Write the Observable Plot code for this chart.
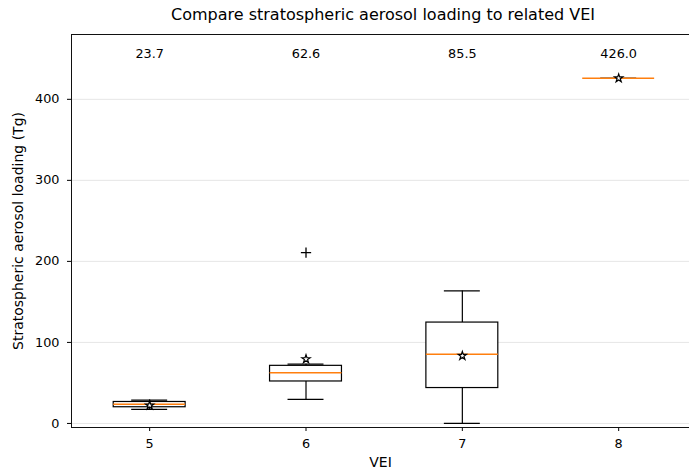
<!DOCTYPE html>
<html>
<head>
<meta charset="utf-8">
<script src="https://cdn.jsdelivr.net/npm/d3@7"></script>
<script src="https://cdn.jsdelivr.net/npm/@observablehq/plot@0.6"></script>
<style>
  html, body { margin: 0; padding: 0; background: #fff; }
  #wrap { width: 689px; height: 468px; overflow: hidden; font-family: "DejaVu Sans", sans-serif; }
  #title { width: 689px; height: 28px; box-sizing: border-box; padding-left: 77px; text-align: center;
           font-size: 16px; line-height: 30px; color: #000; white-space: nowrap; }
  svg { display: block; }
</style>
</head>
<body>
<div id="wrap">
  <div id="title">Compare stratospheric aerosol loading to related VEI</div>
  <div id="chart"></div>
</div>
<script>
// ---- data ----
const vei = ["5", "6", "7", "8"];
const whiskerLow  = [17.3, 29.6, 0.0, 426.0];
const quartile1   = [20.0, 51.8, 43.7, 426.0];
const medians     = [23.7, 62.6, 85.5, 426.0];
const quartile3   = [26.5, 71.1, 124.5, 426.0];
const whiskerHigh = [28.9, 73.2, 163.6, 426.0];
const means       = [22.3, 79.4, 83.5, 426.0];
const outlierVei   = ["6"];
const outlierValue = [210.8];
const yTicks = [0, 100, 200, 300, 400];

// ---- table built from arrays ----
const rows = vei.map((v, i) => ({
  pos: i + 1, vei: v,
  lo: whiskerLow[i], q1: quartile1[i], med: medians[i],
  q3: quartile3[i], hi: whiskerHigh[i], mean: means[i]
}));
const outliers = outlierVei.map((v, i) => ({ pos: vei.indexOf(v) + 1, value: outlierValue[i] }));

const halfBox = 0.23, halfCap = 0.115;
const fs = 12.8, lfs = 14;

const chart = Plot.plot({
  width: 689,
  height: 440,
  marginTop: 6,
  marginBottom: 41,
  marginLeft: 71,
  marginRight: 0,
  style: { fontFamily: "DejaVu Sans, sans-serif", fontSize: fs + "px", color: "#000", background: "#fff" },
  x: { type: "linear", domain: [0.5, 4.453] },
  y: { domain: [-5, 480] },
  marks: [
    Plot.ruleY(yTicks, { stroke: "#e6e6e6", strokeWidth: 1 }),
    // whiskers
    Plot.ruleX(rows, { x: "pos", y1: "lo", y2: "q1", stroke: "black", strokeWidth: 1.2 }),
    Plot.ruleX(rows, { x: "pos", y1: "q3", y2: "hi", stroke: "black", strokeWidth: 1.2 }),
    Plot.ruleY(rows, { y: "lo", x1: d => d.pos - halfCap, x2: d => d.pos + halfCap, stroke: "black", strokeWidth: 1.2 }),
    Plot.ruleY(rows, { y: "hi", x1: d => d.pos - halfCap, x2: d => d.pos + halfCap, stroke: "black", strokeWidth: 1.2 }),
    // boxes
    Plot.rect(rows, { x1: d => d.pos - halfBox, x2: d => d.pos + halfBox, y1: "q1", y2: "q3",
                      fill: "white", stroke: "black", strokeWidth: 1.2 }),
    // medians
    Plot.ruleY(rows, { y: "med", x1: d => d.pos - halfBox, x2: d => d.pos + halfBox, stroke: "#ff7f0e", strokeWidth: 1.5 }),
    // means
    Plot.dot(rows, { x: "pos", y: "mean", symbol: "star", r: 2.6, fill: "white", stroke: "black", strokeWidth: 1.2 }),
    // outliers
    Plot.dot(outliers, { x: "pos", y: "value", symbol: "plus", r: 3.4, stroke: "black", strokeWidth: 1.3 }),
    // median labels
    Plot.text(rows, { x: "pos", text: d => d.med.toFixed(1), frameAnchor: "top", dy: 14, fontSize: fs, fill: "#000" }),
    // axes (ticks)
    Plot.axisY({ ticks: yTicks, tickSize: 4, tickPadding: 8, fontSize: fs, label: null }),
    Plot.axisX({ ticks: rows.map(d => d.pos), tickFormat: d => vei[d - 1], tickSize: 4, tickPadding: 7, fontSize: fs, label: null }),
    // axis labels
    Plot.axisY({ ticks: [], tickSize: 0, fontSize: lfs,
                 label: "Stratospheric aerosol loading (Tg)", labelAnchor: "center", labelArrow: "none", labelOffset: 58 }),
    Plot.axisX({ ticks: [], tickSize: 0, fontSize: lfs,
                 label: "VEI", labelAnchor: "center", labelArrow: "none", labelOffset: 39 }),
    // spines
    Plot.ruleY([480], { stroke: "#111", strokeWidth: 1 }),
    Plot.ruleY([-5], { stroke: "#111", strokeWidth: 1 }),
    Plot.ruleX([0.5], { stroke: "#111", strokeWidth: 1 })
  ]
});
document.getElementById("chart").appendChild(chart);
</script>
</body>
</html>
